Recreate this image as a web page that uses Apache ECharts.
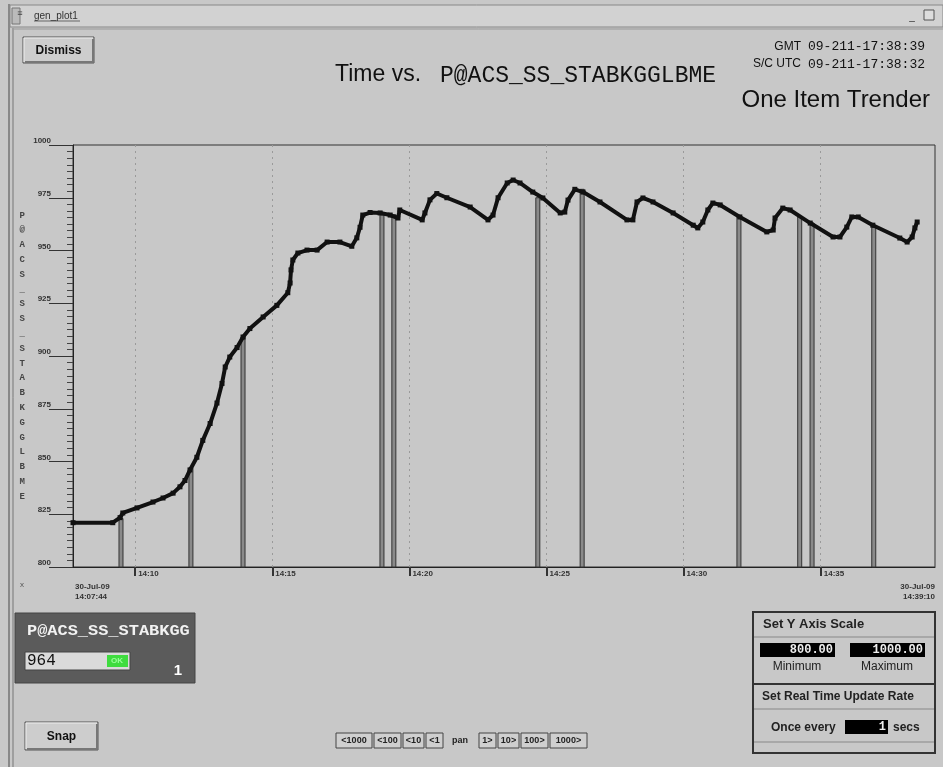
<!DOCTYPE html>
<html><head><meta charset="utf-8">
<script src="https://cdn.jsdelivr.net/npm/echarts@6/dist/echarts.min.js"></script>
<style>html,body{margin:0;padding:0;background:#c8c8c8;}#c{width:943px;height:767px;}</style>
</head><body><div id="c"></div>
<script>
// ---- data ----
const sampleTimes = ['14:07:44','14:09:11','14:09:27','14:09:33','14:10:04','14:10:39','14:11:01','14:11:23','14:11:38','14:11:49','14:12:00','14:12:15','14:12:28','14:12:44','14:12:59','14:13:10','14:13:17','14:13:27','14:13:43','14:13:56','14:14:11','14:14:40','14:15:10','14:15:34','14:15:39','14:15:41','14:15:45','14:15:56','14:16:16','14:16:38','14:17:00','14:17:28','14:17:54','14:18:05','14:18:12','14:18:18','14:18:34','14:18:56','14:19:18','14:19:35','14:19:39','14:20:28','14:20:34','14:20:45','14:21:00','14:21:22','14:22:13','14:22:52','14:23:03','14:23:14','14:23:34','14:23:47','14:24:02','14:24:30','14:24:52','14:25:30','14:25:40','14:25:47','14:26:02','14:26:20','14:26:57','14:27:56','14:28:09','14:28:18','14:28:31','14:28:53','14:29:37','14:30:21','14:30:31','14:30:42','14:30:53','14:31:04','14:31:20','14:32:03','14:33:02','14:33:16','14:33:20','14:33:37','14:33:53','14:34:37','14:35:27','14:35:42','14:35:57','14:36:08','14:36:22','14:36:54','14:37:53','14:38:09','14:38:20','14:38:26','14:38:31'];
const sampleValues = [821,821,823.4,825.6,828,830.8,832.7,835,838,841,846,852,860,868,877.7,887,894.8,899.5,904,909,913,918.5,924,930,934.6,940.8,945.5,948.8,950.2,950.2,954,954,952,956,961,966.8,968,967.8,966.8,965.4,969.2,964.5,967.8,974,977,975,970.6,964.5,966.8,975,982,983.4,982,977.7,974.9,967.8,968.2,973.9,979,977.7,973,964.5,964.5,973,974.9,973,967.8,962,960.7,963.5,969.2,972.5,971.6,965.9,958.8,959.7,965.4,970.1,969.2,963,956.4,956.4,961.1,965.9,965.9,962,955.9,954,956.4,960.7,963.5];
const gapTimes = ['14:09:29','14:12:02','14:13:56','14:19:00','14:19:26','14:24:41','14:26:18','14:32:01','14:34:14','14:34:41','14:36:56'];
const gapValues = [823,847,909,968,967,975,979,966,966,963,961];
const xTickTimes = ['14:10','14:15','14:20','14:25','14:30','14:35'];
const yTicks = [800,825,850,875,900,925,950,975,1000];
const startTime = '14:07:44';
const endTime = '14:39:10';
const dateLabel = '30-Jul-09';
const itemName = 'P@ACS_SS_STABKGGLBME';
const shortName = 'P@ACS_SS_STABKGG';
const currentValue = '964';
const yMinText = '800.00', yMaxText = '1000.00';
const gmtText = '09-211-17:38:39', scText = '09-211-17:38:32';
const panButtons = ['<1000','<100','<10','<1','pan','1>','10>','100>','1000>'];

// ---- helpers ----
const toSec = s => { const p = s.split(':').map(Number); return p[0]*3600 + p[1]*60 + (p[2]||0); };
const pad = n => String(n).padStart(2,'0');
const fmtHM = v => pad(Math.floor(v/3600)) + ':' + pad(Math.floor((v%3600)/60));
const xMin = toSec(startTime), xMax = toSec(endTime);
const tickSecs = xTickTimes.map(toSec);
const lineData = sampleTimes.map((t,i) => [toSec(t), sampleValues[i]]);
const gapData = gapTimes.map((t,i) => [toSec(t), gapValues[i]]);
const yMin = yTicks[0], yMax = yTicks[yTicks.length-1];

const SANS = '"Liberation Sans", Arial, sans-serif';
const MONO = '"Liberation Mono", "DejaVu Sans Mono", monospace';
const BG = '#c8c8c8';

function txt(x, y, text, font, fill, align, valign, z, sx) {
  const o = { type:'text', x:x, y:y, z: z||10, style:{ text:text, font:font, fill:fill||'#111', textAlign:align||'left', textVerticalAlign:valign||'middle' } };
  if (sx) { o.scaleX = sx; }
  return o;
}
function rect(x, y, w, h, fill, stroke, lw, z) {
  return { type:'rect', z: z||5, shape:{x:x,y:y,width:w,height:h}, style:{ fill:fill||'none', stroke:stroke||null, lineWidth:lw||1 } };
}
function line(x1,y1,x2,y2,stroke,lw,z){
  return { type:'line', z:z||6, shape:{x1:x1,y1:y1,x2:x2,y2:y2}, style:{stroke:stroke, lineWidth:lw||1} };
}
function button(x,y,w,h,label,font){
  return [
    rect(x,y,w,h,'#cdcdcd','#555',1,5),
    line(x+1,y+1,x+w-1,y+1,'#eeeeee',1,6),
    line(x+1,y+1,x+1,y+h-1,'#eeeeee',1,6),
    line(x+2,y+h-1,x+w-1,y+h-1,'#777',2,6),
    line(x+w-1,y+2,x+w-1,y+h-1,'#777',2,6),
    txt(x+w/2, y+h/2+1, label, font, '#111', 'center', 'middle', 10)
  ];
}

const graphics = [];
// window frame
graphics.push(line(9,4,9,767,'#888',2,4));
graphics.push(line(13,28,13,767,'#777',1,4));
graphics.push(rect(10,5,933,22,'#d2d2d2','#888',1,4));
graphics.push(rect(12,8,8,16,'#bbb','#777',1,5));
graphics.push(txt(20, 14, '\u2261', '9px ' + SANS, '#444', 'center', 'middle'));
graphics.push(txt(34, 16, 'gen_plot1', '10px ' + SANS, '#333', 'left', 'middle'));
graphics.push(line(34,21,80,21,'#666',1,6));
graphics.push(txt(912, 17, '_', '10px ' + SANS, '#333', 'center', 'middle'));
graphics.push(rect(924,10,10,10,'#ddd','#555',1,5));
graphics.push(line(14,29,943,29,'#999',1,4));

// top controls and titles
graphics.push(...button(23,37,71,26,'Dismiss','bold 12px ' + SANS));
graphics.push(txt(335, 75, 'Time vs.', '23px ' + SANS, '#111', 'left', 'middle'));
graphics.push(txt(440, 76, itemName, '23px ' + MONO, '#111', 'left', 'middle'));
graphics.push(txt(801, 47, 'GMT', '12px ' + SANS, '#111', 'right', 'middle'));
graphics.push(txt(808, 47, gmtText, '13px ' + MONO, '#111', 'left', 'middle'));
graphics.push(txt(801, 64, 'S/C UTC', '12px ' + SANS, '#111', 'right', 'middle'));
graphics.push(txt(808, 65, scText, '13px ' + MONO, '#111', 'left', 'middle'));
graphics.push(txt(930, 100, 'One Item Trender', '24px ' + SANS, '#111', 'right', 'middle'));
graphics.push(txt(22, 585, 'x', '8px ' + SANS, '#555', 'center', 'middle'));

// bottom-left readout panel
graphics.push(rect(15,613,180,70,'#5b5b5b','#444',1,5));
graphics.push(txt(27, 631, shortName, 'bold 15px ' + MONO, '#f2f2f2', 'left', 'middle', 10, 1.13));
graphics.push(rect(25,652,105,18,'#dadada','#444',1,6));
graphics.push(txt(27, 661, currentValue, '16px ' + MONO, '#111', 'left', 'middle'));
graphics.push(rect(107,655,21,12,'#3fdc3f',null,1,7));
graphics.push(txt(117, 661, 'OK', 'bold 8px ' + SANS, '#9f9', 'center', 'middle'));
graphics.push(txt(178, 671, '1', 'bold 15px ' + SANS, '#fff', 'center', 'middle'));

// bottom-right scale panel
graphics.push(rect(753,612,182,141,null,'#333',2,5));
graphics.push(txt(763, 624, 'Set Y Axis Scale', 'bold 13px ' + SANS, '#222', 'left', 'middle'));
graphics.push(line(754,637,934,637,'#888',1,6));
graphics.push(rect(760,643,75,14,'#000',null,1,6));
graphics.push(txt(833, 650, yMinText, 'bold 12px ' + MONO, '#eee', 'right', 'middle'));
graphics.push(rect(850,643,75,14,'#000',null,1,6));
graphics.push(txt(923, 650, yMaxText, 'bold 12px ' + MONO, '#eee', 'right', 'middle'));
graphics.push(txt(797, 667, 'Minimum', '12px ' + SANS, '#222', 'center', 'middle'));
graphics.push(txt(887, 667, 'Maximum', '12px ' + SANS, '#222', 'center', 'middle'));
graphics.push(line(754,684,934,684,'#333',2,6));
graphics.push(txt(762, 697, 'Set Real Time Update Rate', 'bold 12px ' + SANS, '#222', 'left', 'middle'));
graphics.push(line(754,709,934,709,'#888',1,6));
graphics.push(txt(771, 728, 'Once every', 'bold 12px ' + SANS, '#222', 'left', 'middle'));
graphics.push(rect(845,720,43,14,'#000',null,1,6));
graphics.push(txt(886, 727, '1', 'bold 12px ' + MONO, '#eee', 'right', 'middle'));
graphics.push(txt(893, 728, 'secs', 'bold 12px ' + SANS, '#222', 'left', 'middle'));
graphics.push(line(754,742,934,742,'#888',1,6));

// Snap button and pan buttons
graphics.push(...button(25,722,73,28,'Snap','bold 12px ' + SANS));
const panX = [336,374,403,426,446,479,498,521,550];
const panW = [36,27,21,17,28,17,21,27,37];
panButtons.forEach((b,i) => {
  if (b !== 'pan') {
    graphics.push(rect(panX[i],733,panW[i],15,'#cfcfcf','#444',1,5));
  }
  graphics.push(txt(panX[i]+panW[i]/2, 741, b, 'bold 9px ' + SANS, '#222', 'center', 'middle'));
});

const chart = echarts.init(document.getElementById('c'), null, {renderer:'canvas', width:943, height:767});
const labelFont = { fontFamily: SANS, fontSize: 8, fontWeight: 'bold', color: '#333' };

chart.setOption({
  animation: false,
  backgroundColor: BG,
  grid: { left: 73, right: 8, top: 145, bottom: 200, show: true, borderColor: '#333', borderWidth: 1, backgroundColor: 'transparent' },
  xAxis: [
    {
      type: 'value', min: xMin, max: xMax, position: 'bottom',
      axisLine: { show: true, onZero: false, lineStyle: { color: '#222', width: 1 } },
      axisTick: { show: true, customValues: tickSecs, length: 9, lineStyle: { color: '#333', width: 2 } },
      axisLabel: Object.assign({ customValues: tickSecs, formatter: v => fmtHM(v), align: 'left', verticalAlign: 'top', margin: 3, padding: [0,0,0,3] }, labelFont),
      splitLine: { show: true, lineStyle: { color: '#9a9a9a', type: [2,4], width: 1 } }
    },
    {
      type: 'value', min: xMin, max: xMax, position: 'bottom', gridIndex: 0,
      axisLine: { show: false }, axisTick: { show: false }, splitLine: { show: false },
      axisLabel: Object.assign({ customValues: [xMin], formatter: () => dateLabel + '\n' + startTime, align: 'left', verticalAlign: 'top', margin: 15, lineHeight: 10, padding: [0,0,0,2] }, labelFont)
    },
    {
      type: 'value', min: xMin, max: xMax, position: 'bottom', gridIndex: 0,
      axisLine: { show: false }, axisTick: { show: false }, splitLine: { show: false },
      axisLabel: Object.assign({ customValues: [xMax], formatter: () => dateLabel + '\n' + endTime, align: 'right', verticalAlign: 'top', margin: 15, lineHeight: 10 }, labelFont)
    }
  ],
  yAxis: {
    type: 'value', min: yMin, max: yMax, interval: 25,
    name: itemName.split('').join('\n'),
    nameLocation: 'middle', nameRotate: 0, nameGap: 48,
    nameTextStyle: { fontFamily: MONO, fontSize: 9, fontWeight: 'bold', color: '#444', lineHeight: 14.8 },
    axisLine: { show: true, lineStyle: { color: '#222', width: 1 } },
    axisTick: { show: true, length: 24, lineStyle: { color: '#333', width: 1 } },
    minorTick: { show: true, splitNumber: 8, length: 6, lineStyle: { color: '#444', width: 1 } },
    axisLabel: Object.assign({ formatter: v => String(v), align: 'right', verticalAlign: 'bottom', margin: 22 }, labelFont),
    splitLine: { show: false }
  },
  series: [
    {
      type: 'custom', name: 'gaps', data: gapData, xAxisIndex: 0, z: 2,
      renderItem: (params, api) => {
        const top = api.coord([api.value(0), api.value(1)]);
        const base = api.coord([api.value(0), yMin]);
        return { type: 'rect', shape: { x: top[0]-2, y: top[1], width: 4, height: base[1]-top[1] },
                 style: { fill: '#8a8a8a', stroke: '#333', lineWidth: 1 } };
      }
    },
    {
      type: 'line', name: itemName, data: lineData, xAxisIndex: 0, z: 3,
      showSymbol: true, symbol: 'rect', symbolSize: 5,
      itemStyle: { color: '#111' },
      lineStyle: { color: '#111', width: 4 }
    }
  ],
  graphic: graphics
});
</script>
</body></html>
